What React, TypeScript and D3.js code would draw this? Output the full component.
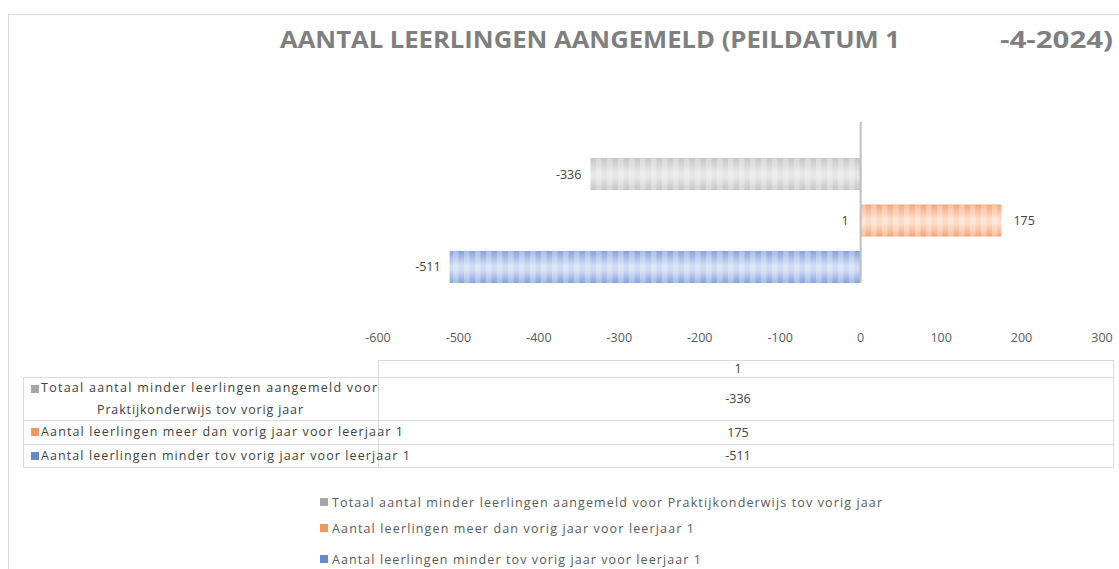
import React from 'react';
import * as d3 from 'd3';

const titleParts = ['AANTAL LEERLINGEN AANGEMELD (PEILDATUM 1', '-4-2024)'];
const category = '1';
const seriesNames = [
  'Totaal aantal minder leerlingen aangemeld voor Praktijkonderwijs tov vorig jaar',
  'Aantal leerlingen meer dan vorig jaar voor leerjaar 1',
  'Aantal leerlingen minder tov vorig jaar voor leerjaar 1',
];
const tableNameLines = [
  ['Totaal aantal minder leerlingen aangemeld voor', 'Praktijkonderwijs tov vorig jaar'],
  ['Aantal leerlingen meer dan vorig jaar voor leerjaar 1'],
  ['Aantal leerlingen minder tov vorig jaar voor leerjaar 1'],
];
const seriesValues = [-336, 175, -511];
const xTicks = [-600, -500, -400, -300, -200, -100, 0, 100, 200, 300];

const keyColors = ['#a5a5a5', '#f0975c', '#6688d0'];
const edgeColors = ['#c6c6c6', '#f4a677', '#87a2dd'];
const midColors = ['#e6e6e6', '#fbdcc8', '#cfdbf2'];

const W = 1119;
const H = 569;
const FONT = "'Open Sans', 'Liberation Sans', sans-serif";

const App = () => {
  const x = d3.scaleLinear().domain([-600, 300]).range([378, 1102]);
  const y = d3.scaleBand<number>()
    .domain(seriesValues.map((_, i) => i))
    .range([158, 283])
    .paddingInner(0.31);

  // data table geometry
  const tLeft = 23, tDiv = 378, tRight = 1113;
  const rowLines = [377, 420, 444, 467];
  const tCenter = 738;

  return (
    <svg width={W} height={H} style={{ position: 'absolute', left: 0, top: 0, background: '#fff' }}
      fontFamily={FONT}>
      <defs>
        {seriesValues.map((_, i) => (
          <linearGradient key={i} id={'g' + i} x1="0" y1="0" x2="0" y2="1">
            <stop offset="0" stopColor={edgeColors[i]} />
            <stop offset="0.45" stopColor={midColors[i]} />
            <stop offset="0.6" stopColor={midColors[i]} />
            <stop offset="1" stopColor={edgeColors[i]} />
          </linearGradient>
        ))}
        <pattern id="stripes" width={11} height={H} patternUnits="userSpaceOnUse" x={860} y={0}>
          <rect x={0} y={0} width={5.5} height={H} fill="#ffffff" fillOpacity={0.28} />
        </pattern>
      </defs>

      {/* frame */}
      <line x1={8} x2={W} y1={14.5} y2={14.5} stroke="#d9d9d9" />
      <line x1={8.5} x2={8.5} y1={14} y2={H} stroke="#d9d9d9" />

      {/* title */}
      <text x={280} y={48} fontSize={24} fontWeight="bold" fill="#7f7f7f"
        textLength={620} lengthAdjust="spacingAndGlyphs">{titleParts[0]}</text>
      <text x={1113} y={48} fontSize={24} fontWeight="bold" fill="#7f7f7f" textAnchor="end"
        textLength={113} lengthAdjust="spacingAndGlyphs">{titleParts[1]}</text>

      {/* bars */}
      {seriesValues.map((v, i) => {
        const x0 = Math.min(x(0), x(v));
        const w = Math.abs(x(v) - x(0));
        const yy = y(i) as number;
        return (
          <g key={i}>
            <rect x={x0} y={yy} width={w} height={y.bandwidth()} fill={`url(#g${i})`} />
            <rect x={x0} y={yy} width={w} height={y.bandwidth()} fill="url(#stripes)" />
            <text
              x={v < 0 ? x(v) - 9 : x(v) + 12}
              y={yy + y.bandwidth() / 2 + 4.5}
              textAnchor={v < 0 ? 'end' : 'start'}
              fontSize={12.5} fill="#404040">{v}</text>
          </g>
        );
      })}

      {/* zero axis line and category label */}
      <line x1={x(0)} x2={x(0)} y1={122} y2={283} stroke="#bfbfbf" strokeWidth={2} />
      <text x={x(0) - 12} y={(y(1) as number) + y.bandwidth() / 2 + 4.5} textAnchor="end"
        fontSize={12.5} fill="#404040">{category}</text>

      {/* x tick labels */}
      {xTicks.map((t) => (
        <text key={t} x={x(t)} y={342} textAnchor="middle" fontSize={12.5} fill="#595959">{t}</text>
      ))}

      {/* data table */}
      <g stroke="#d9d9d9" fill="none">
        <rect x={tDiv + 0.5} y={360.5} width={tRight - tDiv} height={467 - 360} />
        <rect x={tLeft + 0.5} y={377.5} width={tRight - tLeft} height={467 - 377} />
        {rowLines.slice(1, 3).map((ly) => (
          <line key={ly} x1={tLeft} x2={tRight} y1={ly + 0.5} y2={ly + 0.5} />
        ))}
      </g>
      <text x={tCenter} y={373} textAnchor="middle" fontSize={12.5} fill="#404040">{category}</text>
      {seriesValues.map((v, i) => {
        const top = rowLines[i];
        const bottom = rowLines[i + 1];
        const lines = tableNameLines[i];
        return (
          <g key={i}>
            <rect x={31} y={top + 8} width={8} height={8} fill={keyColors[i]} />
            {lines.map((l, j) => (
              <text key={j}
                x={j === 0 ? 41 : 97}
                y={top + (i === 0 ? 15 : 16) + j * 22}
                fontSize={12.5} fill="#404040"
                textLength={i === 0 ? (j === 0 ? 336 : 206) : i === 1 ? 362 : 369}
                lengthAdjust="spacing">{l}</text>
            ))}
            <text x={tCenter} y={(top + bottom) / 2 + 4.5} textAnchor="middle" fontSize={12.5}
              fill="#404040">{v}</text>
          </g>
        );
      })}

      {/* legend */}
      {seriesNames.map((n, i) => {
        const by = [507, 533, 564][i];
        return (
          <g key={i}>
            <rect x={320} y={by - 9} width={8} height={8} fill={keyColors[i]} />
            <text x={332} y={by} fontSize={12.5} fill="#595959"
              textLength={[550, 362, 369][i]} lengthAdjust="spacing">{n}</text>
          </g>
        );
      })}
    </svg>
  );
};

export default App;
